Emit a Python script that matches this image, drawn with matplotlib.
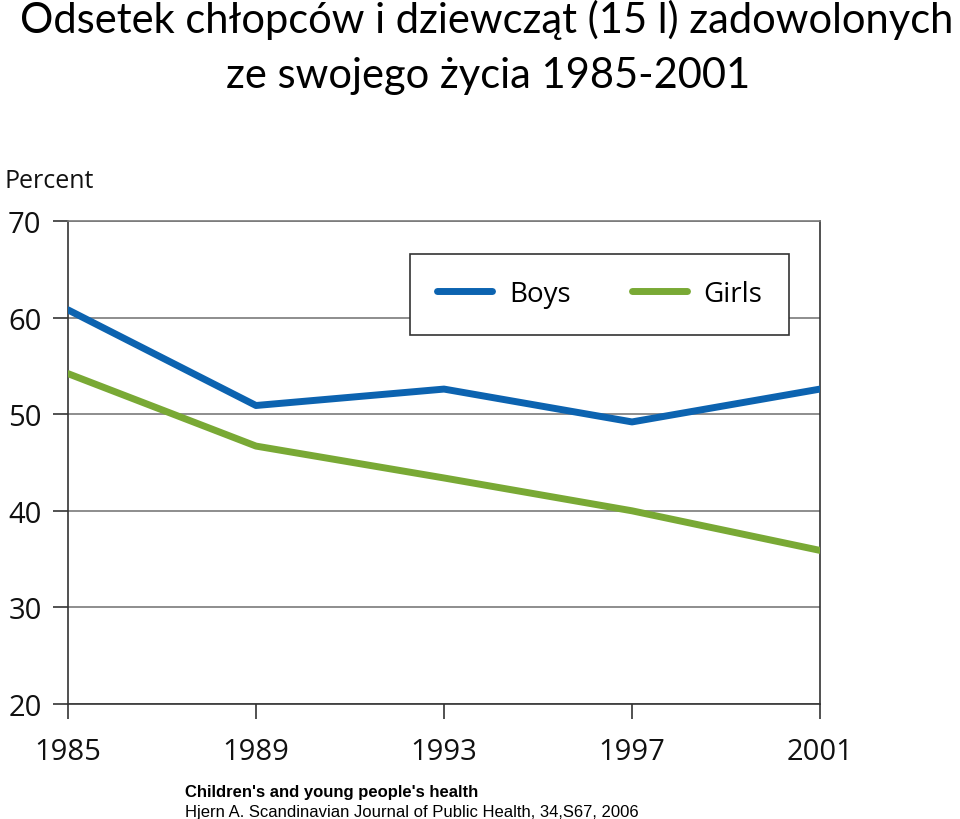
import matplotlib
matplotlib.use("Agg")
import matplotlib.pyplot as plt

years = [1985, 1989, 1993, 1997, 2001]
boys = [60.8, 50.9, 52.6, 49.2, 52.6]
girls = [54.2, 46.7, 43.4, 40.0, 35.9]
y_ticks = [20, 30, 40, 50, 60, 70]

blue = '#0c63b0'
green = '#79a935'

fig = plt.figure(figsize=(9.6, 8.2), dpi=100)
ax = fig.add_axes([0.0708, 0.1402, 0.7834, 0.5891])

ax.plot(years, boys, color=blue, lw=5, solid_capstyle='round', label='Boys', zorder=3)
ax.plot(years, girls, color=green, lw=5, solid_capstyle='round', label='Girls', zorder=3)

ax.set_xlim(1985, 2001)
ax.set_ylim(20, 70)
ax.set_xticks(years)
ax.set_yticks(y_ticks)
ax.grid(axis='y', color='#7a7a7a', lw=1.2)
ax.set_axisbelow(True)
for s in ax.spines.values():
    s.set_color('#333333')
    s.set_linewidth(1.2)
ax.spines['top'].set_color('#7a7a7a')
ax.tick_params(axis='both', direction='out', length=11, width=1.2, color='#333333',
               labelsize=21, labelcolor='#111111')
ax.tick_params(axis='y', pad=8)
ax.tick_params(axis='x', pad=13)
for lab in ax.get_xticklabels() + ax.get_yticklabels():
    lab.set_family('Open Sans')

leg = ax.legend(loc='upper left', bbox_to_anchor=(0.455, 0.932), ncol=2,
                prop={'family': 'Open Sans', 'size': 20}, frameon=True, fancybox=False,
                handlelength=2.0, handletextpad=0.6, columnspacing=2.2,
                borderpad=0.95, borderaxespad=0)
leg.get_frame().set_edgecolor('#333333')
leg.get_frame().set_linewidth(1.2)
leg.get_frame().set_alpha(1)

fig.text(0.005, 0.771, 'Percent', fontsize=18, family='Open Sans', color='#111111')

fig.text(487 / 960, 1 - 33 / 820, 'Odsetek chłopców i dziewcząt (15 l) zadowolonych',
         ha='center', va='baseline', fontsize=30, family='Lato')
fig.text(488 / 960, 1 - 88 / 820, 'ze swojego życia 1985-2001',
         ha='center', va='baseline', fontsize=30, family='Lato')

fig.text(0.193, 0.028, "Children's and young people's health", fontsize=12,
         family='Liberation Sans', weight='bold')
fig.text(0.193, 0.004, 'Hjern A. Scandinavian Journal of Public Health, 34,S67, 2006',
         fontsize=12, family='Liberation Sans')

fig.savefig('out.png', dpi=100)
